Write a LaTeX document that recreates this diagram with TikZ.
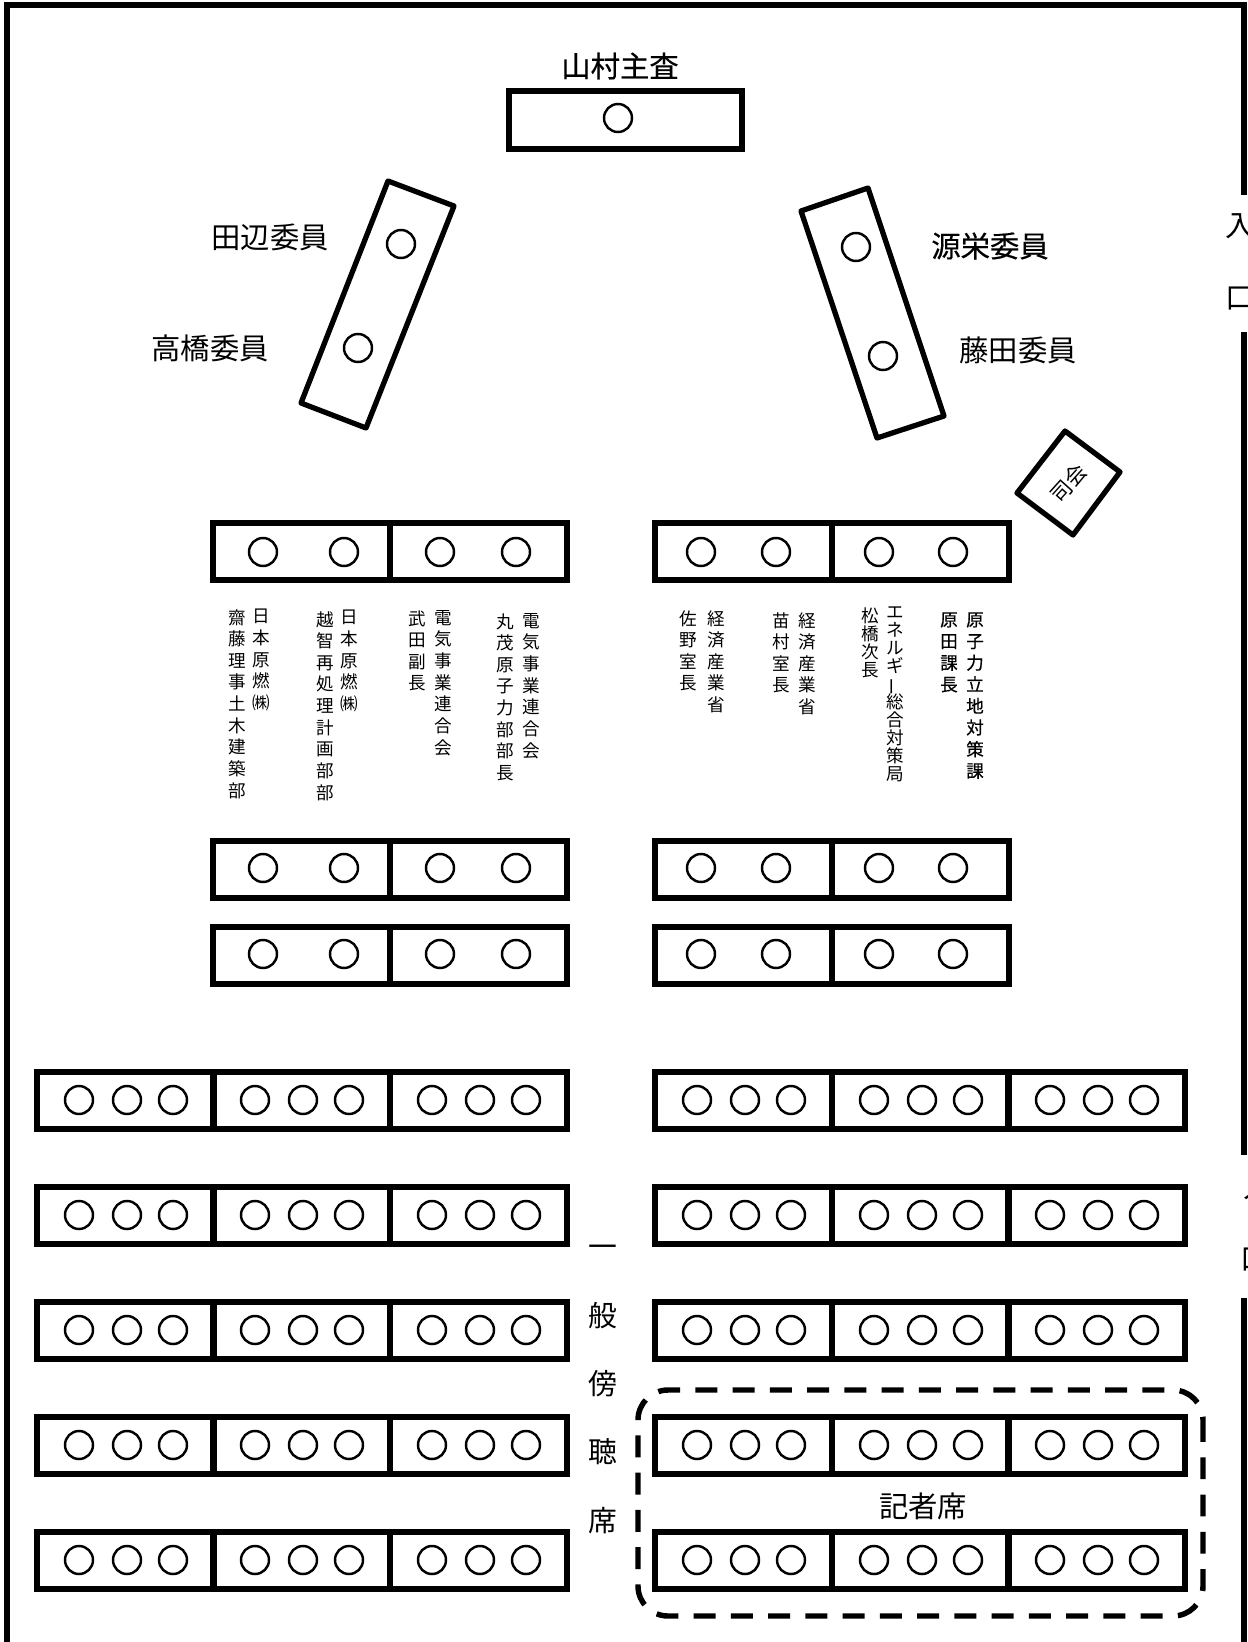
\documentclass[tikz,border=0pt]{standalone}
\usepackage{fontspec}
\usepackage{graphicx}
\setmainfont{Noto Sans CJK JP}
\newfontfamily\heavyjp[FakeBold=0.45]{Noto Sans CJK JP}
\tikzset{
  tablebox/.style={draw, line width=3.4pt, line join=miter},
  slantbox/.style={draw, line width=3pt, line join=round},
  seat/.style={draw, line width=1.4pt},
  namelabel/.style={font=\fontsize{16.7pt}{20pt}\selectfont, inner sep=0pt},
  vlabel/.style={font=\fontsize{10pt}{12.3pt}\selectfont, inner sep=0pt, align=center, anchor=north},
  vlabeltight/.style={font=\fontsize{10pt}{10.3pt}\selectfont, inner sep=0pt, align=center, anchor=north},
}
\begin{document}
\begin{tikzpicture}[x=0.02cm, y=-0.02cm]
\useasboundingbox (0,0) rectangle (1247,1642);
\clip (0,0) rectangle (1247,1642);
% room
\draw[line width=3.4pt] (7,1642) -- (7,5) -- (1244,5) -- (1244,195);
\draw[line width=3.4pt] (1244,332) -- (1244,1155);
\draw[line width=3.4pt] (1244,1298) -- (1244,1642);
\node[namelabel] (door1a) at (1240,226) {入};
\node[namelabel] (door1b) at (1240,299) {口};
\node[namelabel] (door2a) at (1258,1187) {入};
\node[namelabel] (door2b) at (1255,1260) {口};
% chair
\draw[tablebox, line width=3.9pt] (509,91) rectangle (742,149);
\draw[seat] (618,118) circle (14);
\node[namelabel, font=\fontsize{16.7pt}{20pt}\heavyjp] (chair) at (620,66) {山村主査};
% committee
\draw[slantbox] (388,181) -- (454,206) -- (366,428) -- (301,403) -- cycle;
\draw[seat] (401,244) circle (14);
\draw[seat] (358,348) circle (14);
\node[namelabel] (tanabe) at (270,237) {田辺委員};
\node[namelabel] (takahashi) at (210,348) {高橋委員};
\draw[slantbox] (868,188) -- (801,211) -- (877,438) -- (944,416) -- cycle;
\draw[seat] (856,247) circle (14);
\draw[seat] (883,356) circle (14);
\node[namelabel, font=\fontsize{16.7pt}{20pt}\heavyjp] (genei) at (990,246) {源栄委員};
\node[namelabel] (fujita) at (1018,350) {藤田委員};
% moderator
\draw[slantbox] (1065,431) -- (1120,472) -- (1073,535) -- (1017,493) -- cycle;
\node[font=\fontsize{12pt}{12pt}\selectfont, inner sep=0pt, rotate=48] (mod) at (1069,483) {司会};
% front tables
\foreach \y/\c in {523/29,841/27,927/27}{
  \draw[tablebox] (213,\y) rectangle (567,\y+57);
  \draw[tablebox] (390,\y) -- (390,\y+57);
  \draw[tablebox] (655,\y) rectangle (1009,\y+57);
  \draw[tablebox] (832,\y) -- (832,\y+57);
  \foreach \x in {263,344,440,516,701,776,879,953}
    \draw[seat] (\x,\y+\c) circle (14);
}
% explanation of the front row
\node[vlabel] (sl1) at (261,609) {日\\本\\原\\燃\\㈱};
\node[vlabel] (sl2) at (237,609) {齋\\藤\\理\\事\\土\\木\\建\\築\\部};
\node[vlabel] (sl3) at (349,610) {日\\本\\原\\燃\\㈱};
\node[vlabel] (sl4) at (325,611) {越\\智\\再\\処\\理\\計\\画\\部\\部};
\node[vlabel] (sl5) at (443,610) {電\\気\\事\\業\\連\\合\\会};
\node[vlabel] (sl6) at (417,610) {武\\田\\副\\長};
\node[vlabel] (sl7) at (531,613) {電\\気\\事\\業\\連\\合\\会};
\node[vlabel] (sl8) at (505,613) {丸\\茂\\原\\子\\力\\部\\部\\長};
\node[vlabel] (sr1) at (716,610) {経\\済\\産\\業\\省};
\node[vlabel] (sr2) at (688,610) {佐\\野\\室\\長};
\node[vlabel] (sr3) at (807,612) {経\\済\\産\\業\\省};
\node[vlabel] (sr4) at (781,612) {苗\\村\\室\\長};
\node[vlabeltight] (sr5) at (895,606) {エ\\ネ\\ル\\ギ\\\smash{\rotatebox[origin=c]{90}{ー}}\\総\\合\\対\\策\\局};
\node[vlabeltight] (sr6) at (870,607) {松\\橋\\次\\長};
\node[vlabel, font=\fontsize{10pt}{12.3pt}\heavyjp] (sr7) at (975,612) {原\\子\\力\\立\\地\\対\\策\\課};
\node[vlabel, font=\fontsize{10pt}{12.3pt}\heavyjp] (sr8) at (949,612) {原\\田\\課\\長};
% public rows
\foreach \y in {1072,1187,1302,1417,1532}{
  \foreach \xa in {655,832,1008}{
    \draw[tablebox] (\xa,\y) rectangle (\xa+177,\y+57);
    \foreach \dx in {42,90,136}
      \draw[seat] (\xa+\dx,\y+28) circle (14);
  }
  \foreach \xa in {37,213,390}{
    \draw[tablebox] (\xa,\y) rectangle (\xa+177,\y+57);
    \foreach \dx in {42,90,136}
      \draw[seat] (\xa+\dx,\y+28) circle (14);
  }
}
\node[font=\fontsize{16.4pt}{38.9pt}\selectfont, inner sep=0pt, align=center, anchor=north] (public) at (603,1245) {一\\般\\傍\\聴\\席};
% press
\draw[line width=3.1pt, rounded corners=0.6cm, dash pattern=on 12.5pt off 8.7pt] (1203,1390) rectangle (638,1616);
\node[namelabel] (press) at (923,1506) {記者席};
\end{tikzpicture}
\end{document}
